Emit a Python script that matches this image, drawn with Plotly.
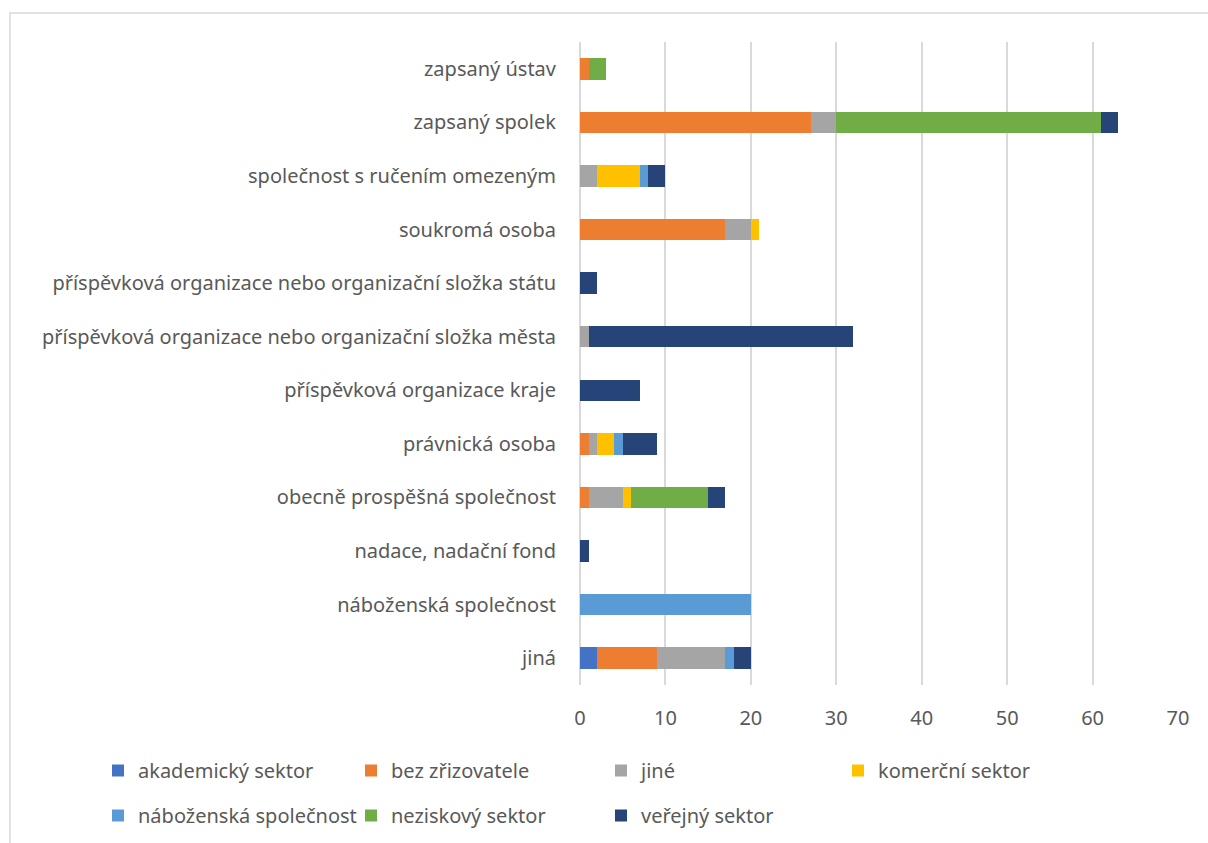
import plotly.graph_objects as go

categories = [
    "zapsaný ústav",
    "zapsaný spolek",
    "společnost s ručením omezeným",
    "soukromá osoba",
    "příspěvková organizace nebo organizační složka státu",
    "příspěvková organizace nebo organizační složka města",
    "příspěvková organizace kraje",
    "právnická osoba",
    "obecně prospěšná společnost",
    "nadace, nadační fond",
    "náboženská společnost",
    "jiná",
]

akademicky = [0, 0, 0, 0, 0, 0, 0, 0, 0, 0, 0, 2]
bez_zrizovatele = [1, 27, 0, 17, 0, 0, 0, 1, 1, 0, 0, 7]
jine = [0, 3, 2, 3, 0, 1, 0, 1, 4, 0, 0, 8]
komercni = [0, 0, 5, 1, 0, 0, 0, 2, 1, 0, 0, 0]
nabozenska = [0, 0, 1, 0, 0, 0, 0, 1, 0, 0, 20, 1]
neziskovy = [2, 31, 0, 0, 0, 0, 0, 0, 9, 0, 0, 0]
verejny = [0, 2, 2, 0, 2, 31, 7, 4, 2, 1, 0, 2]

series = [
    ("akademický sektor", akademicky, "#4472C4", "legend"),
    ("bez zřizovatele", bez_zrizovatele, "#ED7D31", "legend2"),
    ("jiné", jine, "#A5A5A5", "legend3"),
    ("komerční sektor", komercni, "#FFC000", "legend4"),
    ("náboženská společnost", nabozenska, "#5B9BD5", "legend"),
    ("neziskový sektor", neziskovy, "#70AD47", "legend2"),
    ("veřejný sektor", verejny, "#264478", "legend3"),
]

FONT = "Noto Sans"
TXT = "#595959"
FS = 20

W, H = 1208, 843
ML, MR, MT, MB = 580, 30, 42, 158
PW = W - ML - MR
PH = H - MT - MB


def px_x(px):
    return (px - ML) / PW


def px_y(py):
    return (H - MB - py) / PH


fig = go.Figure()
for name, vals, color, lg in series:
    fig.add_trace(go.Bar(
        y=categories, x=vals, name=name, orientation="h",
        marker=dict(color=color, line=dict(width=0)),
        legend=lg, legendgroup=name,
    ))

legend_common = dict(
    font=dict(family=FONT, size=FS, color=TXT),
    orientation="v", xref="paper", yref="paper",
    yanchor="top", xanchor="left", bgcolor="rgba(0,0,0,0)",
    tracegroupgap=16, itemwidth=30, traceorder="grouped",
)

bx0, bx1 = px_x(10), px_x(1220)
by_top, by_bot = px_y(13), px_y(860)
border_path = f"M {bx0} {by_bot} L {bx0} {by_top} L {bx1} {by_top}"

LEG_TOP = 751
fig.update_layout(
    barmode="stack",
    bargap=0.6,
    width=W, height=H,
    margin=dict(l=ML, r=MR, t=MT, b=MB, autoexpand=False),
    paper_bgcolor="white", plot_bgcolor="white",
    font=dict(family=FONT, size=FS, color=TXT),
    xaxis=dict(
        range=[0, 70], dtick=10, showgrid=True, gridcolor="#D9D9D9", gridwidth=1.5,
        zeroline=True, zerolinecolor="#D9D9D9", zerolinewidth=1.5,
        showline=False, ticks="", ticklabelstandoff=19,
        tickfont=dict(family=FONT, size=FS, color=TXT),
        automargin=False, fixedrange=True,
    ),
    yaxis=dict(
        autorange="reversed", showgrid=False, showline=False, ticks="",
        ticklabelstandoff=23, tickfont=dict(family=FONT, size=FS, color=TXT),
        automargin=False, fixedrange=True,
    ),
    legend=dict(x=px_x(98), y=px_y(LEG_TOP), **legend_common),
    legend2=dict(x=px_x(351), y=px_y(LEG_TOP), **legend_common),
    legend3=dict(x=px_x(601), y=px_y(LEG_TOP), **legend_common),
    legend4=dict(x=px_x(838), y=px_y(LEG_TOP), **legend_common),
    showlegend=True,
    shapes=[dict(
        type="path", xref="paper", yref="paper", path=border_path,
        line=dict(color="#D9D9D9", width=1.5), layer="below",
    )],
)

fig.write_html(
    "out.html",
    config={"displayModeBar": False},
    post_script="document.body.style.margin='0';document.body.style.overflow='hidden';",
)
